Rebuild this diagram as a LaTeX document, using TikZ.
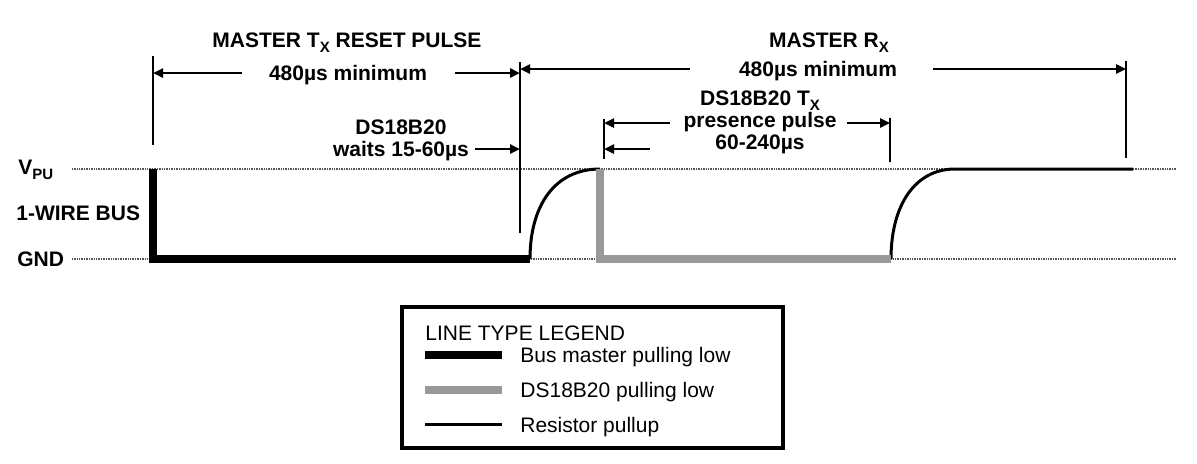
\documentclass[tikz,border=0pt]{standalone}
\usepackage{fontspec}
\setmainfont{Liberation Sans}
\usetikzlibrary{arrows.meta,positioning}
\definecolor{slave}{HTML}{999999}
\definecolor{level}{HTML}{555555}
\newcommand{\lowsub}[1]{\raisebox{-0.45ex}{\fontsize{7.5}{8}\selectfont #1}}

\begin{document}
\begin{tikzpicture}[x=0.5pt,y=-0.5pt,
  lbl/.style={font=\fontsize{10.5}{11}\selectfont\bfseries,align=center,inner sep=0pt},
  leg/.style={font=\fontsize{10.5}{11}\selectfont,anchor=base west,inner sep=0pt},
  lvl/.style={draw=level,line width=0.7pt,dash pattern=on 0.5pt off 0.35pt},
  vbar/.style={draw,line width=1pt},
  dim/.style={-{Triangle[length=5pt,width=4.5pt]},line width=1.2pt},
  master/.style={draw,line width=3.75pt},
  dsl/.style={draw=slave,line width=3.75pt},
  pull/.style={draw,line width=1.5pt}]
\useasboundingbox (0,0) rectangle (1197,463);
\node[lbl,anchor=base west] (vpu) at (18,174) {V\lowsub{PU}};
\node[lbl,anchor=base west] (bus) at (16,220) {1-WIRE BUS};
\node[lbl,anchor=base west] (gnd) at (17,266) {GND};
\draw[lvl] (72,169) coordinate (hi) -- (1177,169);
\draw[lvl] (72,259) coordinate (lo) -- (1177,259);
\coordinate (fall) at (153,169); \coordinate (rel) at (530,259);
\coordinate (pres) at (600,169); \coordinate (pend) at (891,259);
\draw[pull] (rel) .. controls (530,205) and (555,169) .. (pres);
\draw[pull] (pend) .. controls (891,205) and (915,169) .. (955,169) -- (1133,169);
\draw[master] (fall) |- (rel);
\draw[dsl] (pres) |- (pend);
\coordinate (t0) at (153,56);  \coordinate (b0) at (153,145);
\coordinate (t1) at (520,62);  \coordinate (b1) at (520,233);
\coordinate (t2) at (604,119); \coordinate (b2) at (604,159);
\coordinate (t3) at (890,118); \coordinate (b3) at (890,162);
\coordinate (t4) at (1126,61); \coordinate (b4) at (1126,158);
\foreach \i in {0,...,4} \draw[vbar] (t\i) -- (b\i);
\node[lbl,anchor=base] (mtx) at (347,47) {MASTER T\lowsub{X} RESET PULSE};
\node[lbl,anchor=base] (min1) at (348,80) {480µs minimum};
\node[lbl,anchor=base] (mrx) at (829,47) {MASTER R\lowsub{X}};
\node[lbl,anchor=base] (min2) at (818,76) {480µs minimum};
\node[lbl,anchor=north] (wait) at (401,119.5) {DS18B20\\waits 15-60µs};
\node[lbl,anchor=north] (ptx) at (760,90.5) {DS18B20 T\lowsub{X}\\presence pulse\\60-240µs};
\coordinate (l1) at (242,73); \coordinate (r1) at (455,73);
\coordinate (l2) at (690,69); \coordinate (r2) at (933,69);
\coordinate (w1) at (475,149);
\coordinate (l3) at (670,123); \coordinate (r3) at (847,123);
\coordinate (l4) at (650,149);
\draw[dim] (l1) -- (l1 -| t0); \draw[dim] (r1) -- (r1 -| t1);
\draw[dim] (l2) -- (l2 -| t1); \draw[dim] (r2) -- (r2 -| t4);
\draw[dim] (w1) -- (w1 -| t1);
\draw[dim] (l3) -- (l3 -| t2); \draw[dim] (r3) -- (r3 -| t3);
\draw[dim] (l4) -- (l4 -| t2);
\draw[line width=2pt] (402,307) rectangle (783,448);
\node[leg] (lgt) at (425,340) {LINE TYPE LEGEND};
\node[leg] (lg1) at (520,362) {Bus master pulling low};
\node[leg] (lg2) at (520,397) {DS18B20 pulling low};
\node[leg] (lg3) at (520,432) {Resistor pullup};
\draw[master,line width=4pt] ([xshift=-47.5pt,yshift=3.7pt]lg1.base west) -- ([xshift=-9pt,yshift=3.7pt]lg1.base west);
\draw[dsl,line width=4pt] ([xshift=-47.5pt,yshift=3.7pt]lg2.base west) -- ([xshift=-9pt,yshift=3.7pt]lg2.base west);
\draw[pull] ([xshift=-47.5pt,yshift=3.7pt]lg3.base west) -- ([xshift=-9pt,yshift=3.7pt]lg3.base west);
\end{tikzpicture}
\end{document}
